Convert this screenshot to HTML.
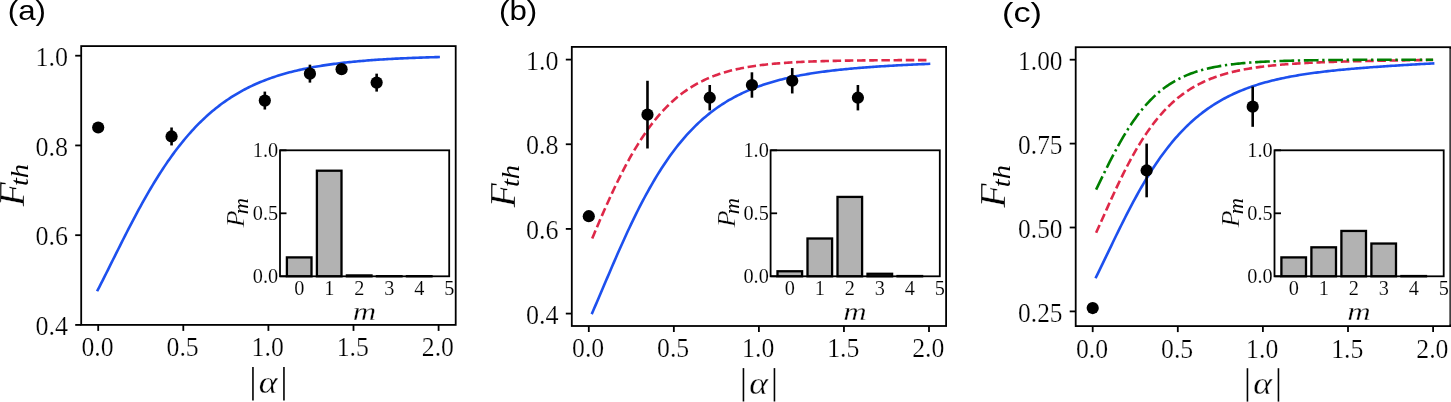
<!DOCTYPE html>
<html><head><meta charset="utf-8"><title>Figure</title>
<style>
html,body{margin:0;padding:0;background:#fff;}
body{width:1451px;height:402px;overflow:hidden;font-family:"Liberation Serif",serif;}
svg{display:block;will-change:transform;}
text{fill:#000;} text.t{stroke:#fff;stroke-width:0.25px;} text.ti{stroke:#fff;stroke-width:0.12px;} text.tb{stroke:#fff;stroke-width:0.3px;}
</style></head><body>
<svg width="1451" height="402" viewBox="0 0 1451 402">
<rect x="0" y="0" width="1451" height="402" fill="#fff"/>
<g id="panel-a">
<path d="M97.69,290.10 L99.40,286.78 L101.12,283.42 L102.83,280.05 L104.54,276.65 L106.25,273.24 L107.97,269.82 L109.68,266.39 L111.39,262.95 L113.11,259.51 L114.82,256.08 L116.53,252.64 L118.25,249.22 L119.96,245.80 L121.67,242.39 L123.39,239.00 L125.10,235.62 L126.81,232.27 L128.53,228.93 L130.24,225.62 L131.95,222.33 L133.66,219.07 L135.38,215.84 L137.09,212.64 L138.80,209.47 L140.52,206.33 L142.23,203.22 L143.94,200.16 L145.66,197.12 L147.37,194.13 L149.08,191.17 L150.80,188.26 L152.51,185.38 L154.22,182.54 L155.94,179.75 L157.65,176.99 L159.36,174.28 L161.07,171.61 L162.79,168.98 L164.50,166.40 L166.21,163.86 L167.93,161.36 L169.64,158.91 L171.35,156.50 L173.07,154.13 L174.78,151.81 L176.49,149.53 L178.21,147.29 L179.92,145.10 L181.63,142.95 L183.35,140.84 L185.06,138.77 L186.77,136.75 L188.48,134.76 L190.20,132.82 L191.91,130.92 L193.62,129.06 L195.34,127.23 L197.05,125.45 L198.76,123.71 L200.48,122.00 L202.19,120.33 L203.90,118.70 L205.62,117.11 L207.33,115.55 L209.04,114.03 L210.76,112.54 L212.47,111.09 L214.18,109.67 L215.89,108.28 L217.61,106.93 L219.32,105.61 L221.03,104.32 L222.75,103.06 L224.46,101.83 L226.17,100.63 L227.89,99.47 L229.60,98.33 L231.31,97.21 L233.03,96.13 L234.74,95.07 L236.45,94.04 L238.17,93.03 L239.88,92.05 L241.59,91.10 L243.30,90.17 L245.02,89.26 L246.73,88.37 L248.44,87.51 L250.16,86.67 L251.87,85.85 L253.58,85.05 L255.30,84.28 L257.01,83.52 L258.72,82.78 L260.44,82.06 L262.15,81.36 L263.86,80.68 L265.58,80.02 L267.29,79.37 L269.00,78.74 L270.71,78.13 L272.43,77.53 L274.14,76.95 L275.85,76.38 L277.57,75.83 L279.28,75.30 L280.99,74.77 L282.71,74.27 L284.42,73.77 L286.13,73.29 L287.85,72.82 L289.56,72.36 L291.27,71.92 L292.98,71.48 L294.70,71.06 L296.41,70.65 L298.12,70.25 L299.84,69.86 L301.55,69.48 L303.26,69.11 L304.98,68.75 L306.69,68.40 L308.40,68.06 L310.12,67.73 L311.83,67.41 L313.54,67.09 L315.26,66.79 L316.97,66.49 L318.68,66.20 L320.39,65.92 L322.11,65.64 L323.82,65.38 L325.53,65.11 L327.25,64.86 L328.96,64.61 L330.67,64.37 L332.39,64.14 L334.10,63.91 L335.81,63.69 L337.53,63.47 L339.24,63.26 L340.95,63.06 L342.67,62.86 L344.38,62.66 L346.09,62.47 L347.80,62.29 L349.52,62.11 L351.23,61.93 L352.94,61.76 L354.66,61.59 L356.37,61.43 L358.08,61.27 L359.80,61.12 L361.51,60.97 L363.22,60.83 L364.94,60.68 L366.65,60.54 L368.36,60.41 L370.08,60.28 L371.79,60.15 L373.50,60.03 L375.21,59.90 L376.93,59.79 L378.64,59.67 L380.35,59.56 L382.07,59.45 L383.78,59.34 L385.49,59.24 L387.21,59.14 L388.92,59.04 L390.63,58.94 L392.35,58.85 L394.06,58.76 L395.77,58.67 L397.49,58.58 L399.20,58.50 L400.91,58.41 L402.62,58.33 L404.34,58.26 L406.05,58.18 L407.76,58.11 L409.48,58.03 L411.19,57.96 L412.90,57.89 L414.62,57.83 L416.33,57.76 L418.04,57.70 L419.76,57.64 L421.47,57.58 L423.18,57.52 L424.90,57.46 L426.61,57.41 L428.32,57.35 L430.03,57.30 L431.75,57.25 L433.46,57.20 L435.17,57.15 L436.89,57.10 L438.60,57.06" fill="none" stroke="#1d50ee" stroke-width="2.6" stroke-linecap="square" stroke-linejoin="round"/>
<circle cx="98.20" cy="127.49" r="6.1" fill="#000"/>
<line x1="171.56" x2="171.56" y1="127.49" y2="145.44" stroke="#000" stroke-width="2.6"/>
<circle cx="171.56" cy="136.47" r="6.1" fill="#000"/>
<line x1="264.83" x2="264.83" y1="91.60" y2="109.54" stroke="#000" stroke-width="2.6"/>
<circle cx="264.83" cy="100.57" r="6.1" fill="#000"/>
<line x1="309.93" x2="309.93" y1="64.67" y2="82.62" stroke="#000" stroke-width="2.6"/>
<circle cx="309.93" cy="73.65" r="6.1" fill="#000"/>
<line x1="341.59" x2="341.59" y1="64.67" y2="73.65" stroke="#000" stroke-width="2.6"/>
<circle cx="341.59" cy="69.16" r="6.1" fill="#000"/>
<line x1="376.65" x2="376.65" y1="73.65" y2="91.60" stroke="#000" stroke-width="2.6"/>
<circle cx="376.65" cy="82.62" r="6.1" fill="#000"/>
<rect x="81.2" y="46.1" width="374.50" height="278.80" fill="none" stroke="#000" stroke-width="1.8"/>
<line x1="98.20" x2="98.20" y1="324.9" y2="330.9" stroke="#000" stroke-width="1.8"/>
<text transform="translate(97.50,356.30) scale(0.955,1)" class="t" font-family='"Liberation Serif", serif' font-size="27" text-anchor="middle">0.0</text>
<line x1="183.30" x2="183.30" y1="324.9" y2="330.9" stroke="#000" stroke-width="1.8"/>
<text transform="translate(182.60,356.30) scale(0.955,1)" class="t" font-family='"Liberation Serif", serif' font-size="27" text-anchor="middle">0.5</text>
<line x1="268.40" x2="268.40" y1="324.9" y2="330.9" stroke="#000" stroke-width="1.8"/>
<text transform="translate(267.70,356.30) scale(0.955,1)" class="t" font-family='"Liberation Serif", serif' font-size="27" text-anchor="middle">1.0</text>
<line x1="353.50" x2="353.50" y1="324.9" y2="330.9" stroke="#000" stroke-width="1.8"/>
<text transform="translate(352.80,356.30) scale(0.955,1)" class="t" font-family='"Liberation Serif", serif' font-size="27" text-anchor="middle">1.5</text>
<line x1="438.60" x2="438.60" y1="324.9" y2="330.9" stroke="#000" stroke-width="1.8"/>
<text transform="translate(437.90,356.30) scale(0.955,1)" class="t" font-family='"Liberation Serif", serif' font-size="27" text-anchor="middle">2.0</text>
<line x1="75.2" x2="81.2" y1="55.70" y2="55.70" stroke="#000" stroke-width="1.8"/>
<text transform="translate(68.00,65.80) scale(0.965,1)" class="t" font-family='"Liberation Serif", serif' font-size="27" text-anchor="end">1.0</text>
<line x1="75.2" x2="81.2" y1="145.44" y2="145.44" stroke="#000" stroke-width="1.8"/>
<text transform="translate(68.00,155.54) scale(0.965,1)" class="t" font-family='"Liberation Serif", serif' font-size="27" text-anchor="end">0.8</text>
<line x1="75.2" x2="81.2" y1="235.18" y2="235.18" stroke="#000" stroke-width="1.8"/>
<text transform="translate(68.00,245.28) scale(0.965,1)" class="t" font-family='"Liberation Serif", serif' font-size="27" text-anchor="end">0.6</text>
<line x1="75.2" x2="81.2" y1="324.92" y2="324.92" stroke="#000" stroke-width="1.8"/>
<text transform="translate(68.00,335.02) scale(0.965,1)" class="t" font-family='"Liberation Serif", serif' font-size="27" text-anchor="end">0.4</text>
<line x1="252.95" x2="252.95" y1="367.00" y2="400.40" stroke="#000" stroke-width="1.6"/>
<line x1="283.95" x2="283.95" y1="367.00" y2="400.40" stroke="#000" stroke-width="1.6"/>
<text transform="translate(268.15,392.90) scale(1.15,1)" class="tb" font-family='"Liberation Serif", serif' font-style="italic" font-size="31" text-anchor="middle">α</text>
<text transform="translate(23.90,206.50) rotate(-90) scale(1.14,1)" class="tb" font-family='"Liberation Serif", serif' font-style="italic" font-size="35">F</text>
<text transform="translate(28.40,186.10) rotate(-90) scale(1.14,1)" font-family='"Liberation Serif", serif' font-style="italic" font-size="25">th</text>
<text x="7.8" y="19.9" font-family='"Liberation Sans", sans-serif' font-size="27.3" textLength="38.2" lengthAdjust="spacingAndGlyphs">(a)</text>
<rect x="280.00" y="150.3" width="169.20" height="126.00" fill="#fff" stroke="none"/>
<rect x="286.90" y="257.40" width="24.60" height="18.90" fill="#b2b2b2" stroke="#000" stroke-width="2.3"/>
<rect x="316.90" y="170.71" width="24.60" height="105.59" fill="#b2b2b2" stroke="#000" stroke-width="2.3"/>
<rect x="346.90" y="275.42" width="24.60" height="0.88" fill="#b2b2b2" stroke="#000" stroke-width="2.3"/>
<rect x="376.90" y="276.17" width="24.60" height="0.13" fill="#b2b2b2" stroke="#000" stroke-width="2.3"/>
<rect x="406.90" y="276.17" width="24.60" height="0.13" fill="#b2b2b2" stroke="#000" stroke-width="2.3"/>
<rect x="280.00" y="150.3" width="169.20" height="126.00" fill="none" stroke="#000" stroke-width="1.8"/>
<line x1="280.00" x2="286.50" y1="150.30" y2="150.30" stroke="#000" stroke-width="1.8"/>
<text x="278.20" y="157.00" class="ti" font-family='"Liberation Serif", serif' font-size="20.3" text-anchor="end">1.0</text>
<line x1="280.00" x2="286.50" y1="213.30" y2="213.30" stroke="#000" stroke-width="1.8"/>
<text x="278.20" y="220.00" class="ti" font-family='"Liberation Serif", serif' font-size="20.3" text-anchor="end">0.5</text>
<line x1="280.00" x2="286.50" y1="276.30" y2="276.30" stroke="#000" stroke-width="1.8"/>
<text x="278.20" y="283.00" class="ti" font-family='"Liberation Serif", serif' font-size="20.3" text-anchor="end">0.0</text>
<text x="299.20" y="294.50" class="ti" font-family='"Liberation Serif", serif' font-size="20.3" text-anchor="middle">0</text>
<text x="329.20" y="294.50" class="ti" font-family='"Liberation Serif", serif' font-size="20.3" text-anchor="middle">1</text>
<text x="359.20" y="294.50" class="ti" font-family='"Liberation Serif", serif' font-size="20.3" text-anchor="middle">2</text>
<text x="389.20" y="294.50" class="ti" font-family='"Liberation Serif", serif' font-size="20.3" text-anchor="middle">3</text>
<text x="419.20" y="294.50" class="ti" font-family='"Liberation Serif", serif' font-size="20.3" text-anchor="middle">4</text>
<text x="449.20" y="294.50" class="ti" font-family='"Liberation Serif", serif' font-size="20.3" text-anchor="middle">5</text>
<text transform="translate(364.50,319.80) scale(1.25,1)" class="tb" font-family='"Liberation Serif", serif' font-style="italic" font-size="26" text-anchor="middle">m</text>
<text transform="translate(244.40,227.30) rotate(-90) scale(1.07,1)" class="tb" font-family='"Liberation Serif", serif' font-style="italic" font-size="26">P</text>
<text transform="translate(248.20,214.20) rotate(-90) scale(1.12,1)" font-family='"Liberation Serif", serif' font-style="italic" font-size="20">m</text>
</g>
<g id="panel-b">
<path d="M592.20,312.95 L593.89,309.06 L595.59,305.14 L597.28,301.20 L598.97,297.24 L600.66,293.27 L602.36,289.30 L604.05,285.32 L605.74,281.34 L607.43,277.37 L609.13,273.41 L610.82,269.46 L612.51,265.52 L614.20,261.61 L615.90,257.72 L617.59,253.85 L619.28,250.01 L620.97,246.21 L622.67,242.43 L624.36,238.69 L626.05,234.99 L627.74,231.33 L629.44,227.71 L631.13,224.14 L632.82,220.60 L634.51,217.12 L636.21,213.68 L637.90,210.29 L639.59,206.95 L641.28,203.66 L642.98,200.42 L644.67,197.24 L646.36,194.10 L648.05,191.02 L649.75,187.99 L651.44,185.02 L653.13,182.10 L654.82,179.23 L656.52,176.42 L658.21,173.66 L659.90,170.96 L661.59,168.30 L663.28,165.71 L664.98,163.16 L666.67,160.67 L668.36,158.23 L670.05,155.84 L671.75,153.51 L673.44,151.22 L675.13,148.99 L676.82,146.81 L678.52,144.67 L680.21,142.59 L681.90,140.55 L683.59,138.56 L685.29,136.61 L686.98,134.72 L688.67,132.86 L690.36,131.06 L692.06,129.29 L693.75,127.57 L695.44,125.89 L697.13,124.25 L698.83,122.66 L700.52,121.10 L702.21,119.58 L703.90,118.10 L705.60,116.66 L707.29,115.25 L708.98,113.88 L710.67,112.55 L712.37,111.25 L714.06,109.98 L715.75,108.75 L717.44,107.55 L719.14,106.38 L720.83,105.24 L722.52,104.13 L724.21,103.05 L725.91,102.00 L727.60,100.98 L729.29,99.98 L730.98,99.01 L732.68,98.07 L734.37,97.15 L736.06,96.26 L737.75,95.39 L739.45,94.54 L741.14,93.72 L742.83,92.91 L744.52,92.13 L746.22,91.37 L747.91,90.64 L749.60,89.92 L751.29,89.22 L752.98,88.54 L754.68,87.87 L756.37,87.23 L758.06,86.60 L759.75,85.99 L761.45,85.40 L763.14,84.82 L764.83,84.25 L766.52,83.71 L768.22,83.17 L769.91,82.65 L771.60,82.15 L773.29,81.66 L774.99,81.18 L776.68,80.71 L778.37,80.26 L780.06,79.82 L781.76,79.39 L783.45,78.97 L785.14,78.56 L786.83,78.16 L788.53,77.78 L790.22,77.40 L791.91,77.03 L793.60,76.68 L795.30,76.33 L796.99,75.99 L798.68,75.66 L800.37,75.34 L802.07,75.03 L803.76,74.72 L805.45,74.42 L807.14,74.13 L808.84,73.85 L810.53,73.57 L812.22,73.30 L813.91,73.04 L815.61,72.79 L817.30,72.54 L818.99,72.29 L820.68,72.05 L822.38,71.82 L824.07,71.60 L825.76,71.38 L827.45,71.16 L829.15,70.95 L830.84,70.75 L832.53,70.54 L834.22,70.35 L835.92,70.16 L837.61,69.97 L839.30,69.79 L840.99,69.61 L842.68,69.43 L844.38,69.26 L846.07,69.10 L847.76,68.93 L849.45,68.78 L851.15,68.62 L852.84,68.47 L854.53,68.32 L856.22,68.17 L857.92,68.03 L859.61,67.89 L861.30,67.75 L862.99,67.62 L864.69,67.48 L866.38,67.35 L868.07,67.23 L869.76,67.10 L871.46,66.98 L873.15,66.86 L874.84,66.75 L876.53,66.63 L878.23,66.52 L879.92,66.41 L881.61,66.30 L883.30,66.19 L885.00,66.09 L886.69,65.98 L888.38,65.88 L890.07,65.78 L891.77,65.69 L893.46,65.59 L895.15,65.50 L896.84,65.40 L898.54,65.31 L900.23,65.22 L901.92,65.13 L903.61,65.04 L905.31,64.96 L907.00,64.87 L908.69,64.79 L910.38,64.71 L912.08,64.62 L913.77,64.54 L915.46,64.47 L917.15,64.39 L918.85,64.31 L920.54,64.23 L922.23,64.16 L923.92,64.08 L925.62,64.01 L927.31,63.94 L929.00,63.87" fill="none" stroke="#1d50ee" stroke-width="2.6" stroke-linecap="square" stroke-linejoin="round"/>
<path d="M592.20,238.39 L593.89,234.38 L595.59,230.38 L597.28,226.40 L598.97,222.45 L600.66,218.52 L602.36,214.63 L604.05,210.77 L605.74,206.96 L607.43,203.18 L609.13,199.44 L610.82,195.75 L612.51,192.11 L614.20,188.52 L615.90,184.98 L617.59,181.50 L619.28,178.07 L620.97,174.69 L622.67,171.38 L624.36,168.13 L626.05,164.93 L627.74,161.80 L629.44,158.73 L631.13,155.72 L632.82,152.77 L634.51,149.89 L636.21,147.07 L637.90,144.32 L639.59,141.63 L641.28,139.00 L642.98,136.44 L644.67,133.94 L646.36,131.50 L648.05,129.12 L649.75,126.81 L651.44,124.55 L653.13,122.36 L654.82,120.23 L656.52,118.16 L658.21,116.14 L659.90,114.19 L661.59,112.29 L663.28,110.44 L664.98,108.65 L666.67,106.92 L668.36,105.23 L670.05,103.60 L671.75,102.02 L673.44,100.49 L675.13,99.01 L676.82,97.57 L678.52,96.19 L680.21,94.85 L681.90,93.55 L683.59,92.29 L685.29,91.08 L686.98,89.91 L688.67,88.78 L690.36,87.69 L692.06,86.63 L693.75,85.61 L695.44,84.63 L697.13,83.69 L698.83,82.77 L700.52,81.89 L702.21,81.04 L703.90,80.22 L705.60,79.44 L707.29,78.68 L708.98,77.95 L710.67,77.24 L712.37,76.56 L714.06,75.91 L715.75,75.28 L717.44,74.68 L719.14,74.10 L720.83,73.54 L722.52,73.00 L724.21,72.49 L725.91,71.99 L727.60,71.51 L729.29,71.05 L730.98,70.61 L732.68,70.19 L734.37,69.78 L736.06,69.39 L737.75,69.01 L739.45,68.65 L741.14,68.30 L742.83,67.97 L744.52,67.65 L746.22,67.34 L747.91,67.04 L749.60,66.76 L751.29,66.49 L752.98,66.23 L754.68,65.98 L756.37,65.74 L758.06,65.50 L759.75,65.28 L761.45,65.07 L763.14,64.87 L764.83,64.67 L766.52,64.48 L768.22,64.30 L769.91,64.13 L771.60,63.96 L773.29,63.80 L774.99,63.65 L776.68,63.50 L778.37,63.36 L780.06,63.23 L781.76,63.10 L783.45,62.97 L785.14,62.85 L786.83,62.74 L788.53,62.63 L790.22,62.52 L791.91,62.42 L793.60,62.32 L795.30,62.23 L796.99,62.14 L798.68,62.05 L800.37,61.97 L802.07,61.89 L803.76,61.82 L805.45,61.74 L807.14,61.67 L808.84,61.60 L810.53,61.54 L812.22,61.48 L813.91,61.42 L815.61,61.36 L817.30,61.31 L818.99,61.25 L820.68,61.20 L822.38,61.15 L824.07,61.11 L825.76,61.06 L827.45,61.02 L829.15,60.98 L830.84,60.94 L832.53,60.90 L834.22,60.86 L835.92,60.83 L837.61,60.79 L839.30,60.76 L840.99,60.73 L842.68,60.70 L844.38,60.67 L846.07,60.64 L847.76,60.62 L849.45,60.59 L851.15,60.57 L852.84,60.54 L854.53,60.52 L856.22,60.50 L857.92,60.48 L859.61,60.46 L861.30,60.44 L862.99,60.42 L864.69,60.40 L866.38,60.39 L868.07,60.37 L869.76,60.36 L871.46,60.34 L873.15,60.33 L874.84,60.31 L876.53,60.30 L878.23,60.29 L879.92,60.27 L881.61,60.26 L883.30,60.25 L885.00,60.24 L886.69,60.23 L888.38,60.22 L890.07,60.21 L891.77,60.20 L893.46,60.20 L895.15,60.19 L896.84,60.18 L898.54,60.17 L900.23,60.17 L901.92,60.16 L903.61,60.15 L905.31,60.15 L907.00,60.14 L908.69,60.14 L910.38,60.13 L912.08,60.13 L913.77,60.13 L915.46,60.12 L917.15,60.12 L918.85,60.12 L920.54,60.11 L922.23,60.11 L923.92,60.11 L925.62,60.11 L927.31,60.11 L929.00,60.10" fill="none" stroke="#de2848" stroke-width="2.6" stroke-linecap="butt" stroke-linejoin="round" stroke-dasharray="8.51,3.68"/>
<circle cx="588.80" cy="216.22" r="6.1" fill="#000"/>
<line x1="647.48" x2="647.48" y1="80.77" y2="148.49" stroke="#000" stroke-width="2.6"/>
<circle cx="647.48" cy="114.63" r="6.1" fill="#000"/>
<line x1="709.74" x2="709.74" y1="85.00" y2="110.40" stroke="#000" stroke-width="2.6"/>
<circle cx="709.74" cy="97.70" r="6.1" fill="#000"/>
<line x1="751.93" x2="751.93" y1="72.30" y2="97.70" stroke="#000" stroke-width="2.6"/>
<circle cx="751.93" cy="85.00" r="6.1" fill="#000"/>
<line x1="792.24" x2="792.24" y1="68.07" y2="93.46" stroke="#000" stroke-width="2.6"/>
<circle cx="792.24" cy="80.77" r="6.1" fill="#000"/>
<line x1="857.90" x2="857.90" y1="85.00" y2="110.40" stroke="#000" stroke-width="2.6"/>
<circle cx="857.90" cy="97.70" r="6.1" fill="#000"/>
<rect x="571.8" y="46.9" width="374.30" height="279.10" fill="none" stroke="#000" stroke-width="1.8"/>
<line x1="588.80" x2="588.80" y1="326.0" y2="332.0" stroke="#000" stroke-width="1.8"/>
<text transform="translate(588.10,357.40) scale(0.955,1)" class="t" font-family='"Liberation Serif", serif' font-size="27" text-anchor="middle">0.0</text>
<line x1="673.85" x2="673.85" y1="326.0" y2="332.0" stroke="#000" stroke-width="1.8"/>
<text transform="translate(673.15,357.40) scale(0.955,1)" class="t" font-family='"Liberation Serif", serif' font-size="27" text-anchor="middle">0.5</text>
<line x1="758.90" x2="758.90" y1="326.0" y2="332.0" stroke="#000" stroke-width="1.8"/>
<text transform="translate(758.20,357.40) scale(0.955,1)" class="t" font-family='"Liberation Serif", serif' font-size="27" text-anchor="middle">1.0</text>
<line x1="843.95" x2="843.95" y1="326.0" y2="332.0" stroke="#000" stroke-width="1.8"/>
<text transform="translate(843.25,357.40) scale(0.955,1)" class="t" font-family='"Liberation Serif", serif' font-size="27" text-anchor="middle">1.5</text>
<line x1="929.00" x2="929.00" y1="326.0" y2="332.0" stroke="#000" stroke-width="1.8"/>
<text transform="translate(928.30,357.40) scale(0.955,1)" class="t" font-family='"Liberation Serif", serif' font-size="27" text-anchor="middle">2.0</text>
<line x1="565.8" x2="571.8" y1="59.60" y2="59.60" stroke="#000" stroke-width="1.8"/>
<text transform="translate(558.60,69.70) scale(0.965,1)" class="t" font-family='"Liberation Serif", serif' font-size="27" text-anchor="end">1.0</text>
<line x1="565.8" x2="571.8" y1="144.26" y2="144.26" stroke="#000" stroke-width="1.8"/>
<text transform="translate(558.60,154.36) scale(0.965,1)" class="t" font-family='"Liberation Serif", serif' font-size="27" text-anchor="end">0.8</text>
<line x1="565.8" x2="571.8" y1="228.92" y2="228.92" stroke="#000" stroke-width="1.8"/>
<text transform="translate(558.60,239.02) scale(0.965,1)" class="t" font-family='"Liberation Serif", serif' font-size="27" text-anchor="end">0.6</text>
<line x1="565.8" x2="571.8" y1="313.58" y2="313.58" stroke="#000" stroke-width="1.8"/>
<text transform="translate(558.60,323.68) scale(0.965,1)" class="t" font-family='"Liberation Serif", serif' font-size="27" text-anchor="end">0.4</text>
<line x1="743.45" x2="743.45" y1="368.10" y2="401.50" stroke="#000" stroke-width="1.6"/>
<line x1="774.45" x2="774.45" y1="368.10" y2="401.50" stroke="#000" stroke-width="1.6"/>
<text transform="translate(758.65,394.00) scale(1.15,1)" class="tb" font-family='"Liberation Serif", serif' font-style="italic" font-size="31" text-anchor="middle">α</text>
<text transform="translate(514.50,207.45) rotate(-90) scale(1.14,1)" class="tb" font-family='"Liberation Serif", serif' font-style="italic" font-size="35">F</text>
<text transform="translate(519.00,187.05) rotate(-90) scale(1.14,1)" font-family='"Liberation Serif", serif' font-style="italic" font-size="25">th</text>
<text x="499.0" y="19.5" font-family='"Liberation Sans", sans-serif' font-size="27.3" textLength="38.2" lengthAdjust="spacingAndGlyphs">(b)</text>
<rect x="770.60" y="150.3" width="169.20" height="126.00" fill="#fff" stroke="none"/>
<rect x="777.50" y="271.26" width="24.60" height="5.04" fill="#b2b2b2" stroke="#000" stroke-width="2.3"/>
<rect x="807.50" y="238.50" width="24.60" height="37.80" fill="#b2b2b2" stroke="#000" stroke-width="2.3"/>
<rect x="837.50" y="196.92" width="24.60" height="79.38" fill="#b2b2b2" stroke="#000" stroke-width="2.3"/>
<rect x="867.50" y="273.78" width="24.60" height="2.52" fill="#b2b2b2" stroke="#000" stroke-width="2.3"/>
<rect x="897.50" y="276.05" width="24.60" height="0.25" fill="#b2b2b2" stroke="#000" stroke-width="2.3"/>
<rect x="770.60" y="150.3" width="169.20" height="126.00" fill="none" stroke="#000" stroke-width="1.8"/>
<line x1="770.60" x2="777.10" y1="150.30" y2="150.30" stroke="#000" stroke-width="1.8"/>
<text x="768.80" y="157.00" class="ti" font-family='"Liberation Serif", serif' font-size="20.3" text-anchor="end">1.0</text>
<line x1="770.60" x2="777.10" y1="213.30" y2="213.30" stroke="#000" stroke-width="1.8"/>
<text x="768.80" y="220.00" class="ti" font-family='"Liberation Serif", serif' font-size="20.3" text-anchor="end">0.5</text>
<line x1="770.60" x2="777.10" y1="276.30" y2="276.30" stroke="#000" stroke-width="1.8"/>
<text x="768.80" y="283.00" class="ti" font-family='"Liberation Serif", serif' font-size="20.3" text-anchor="end">0.0</text>
<text x="789.80" y="294.50" class="ti" font-family='"Liberation Serif", serif' font-size="20.3" text-anchor="middle">0</text>
<text x="819.80" y="294.50" class="ti" font-family='"Liberation Serif", serif' font-size="20.3" text-anchor="middle">1</text>
<text x="849.80" y="294.50" class="ti" font-family='"Liberation Serif", serif' font-size="20.3" text-anchor="middle">2</text>
<text x="879.80" y="294.50" class="ti" font-family='"Liberation Serif", serif' font-size="20.3" text-anchor="middle">3</text>
<text x="909.80" y="294.50" class="ti" font-family='"Liberation Serif", serif' font-size="20.3" text-anchor="middle">4</text>
<text x="939.80" y="294.50" class="ti" font-family='"Liberation Serif", serif' font-size="20.3" text-anchor="middle">5</text>
<text transform="translate(855.10,319.80) scale(1.25,1)" class="tb" font-family='"Liberation Serif", serif' font-style="italic" font-size="26" text-anchor="middle">m</text>
<text transform="translate(735.00,227.30) rotate(-90) scale(1.07,1)" class="tb" font-family='"Liberation Serif", serif' font-style="italic" font-size="26">P</text>
<text transform="translate(738.80,214.20) rotate(-90) scale(1.12,1)" font-family='"Liberation Serif", serif' font-style="italic" font-size="20">m</text>
</g>
<g id="panel-c">
<path d="M1096.10,277.09 L1097.80,273.65 L1099.49,270.18 L1101.18,266.69 L1102.88,263.19 L1104.57,259.67 L1106.26,256.14 L1107.96,252.61 L1109.65,249.08 L1111.35,245.56 L1113.04,242.04 L1114.73,238.54 L1116.43,235.05 L1118.12,231.59 L1119.81,228.14 L1121.51,224.73 L1123.20,221.34 L1124.89,217.98 L1126.59,214.65 L1128.28,211.36 L1129.97,208.11 L1131.67,204.89 L1133.36,201.72 L1135.05,198.59 L1136.75,195.50 L1138.44,192.46 L1140.13,189.46 L1141.83,186.51 L1143.52,183.61 L1145.21,180.76 L1146.91,177.95 L1148.60,175.20 L1150.29,172.49 L1151.99,169.84 L1153.68,167.24 L1155.37,164.68 L1157.07,162.18 L1158.76,159.73 L1160.45,157.33 L1162.15,154.98 L1163.84,152.68 L1165.54,150.43 L1167.23,148.23 L1168.92,146.08 L1170.62,143.97 L1172.31,141.92 L1174.00,139.91 L1175.70,137.95 L1177.39,136.03 L1179.08,134.16 L1180.78,132.34 L1182.47,130.56 L1184.16,128.82 L1185.86,127.13 L1187.55,125.47 L1189.24,123.86 L1190.94,122.29 L1192.63,120.76 L1194.32,119.27 L1196.02,117.82 L1197.71,116.41 L1199.40,115.03 L1201.10,113.69 L1202.79,112.38 L1204.48,111.11 L1206.18,109.87 L1207.87,108.66 L1209.56,107.49 L1211.26,106.35 L1212.95,105.24 L1214.65,104.15 L1216.34,103.10 L1218.03,102.08 L1219.73,101.08 L1221.42,100.11 L1223.11,99.17 L1224.81,98.25 L1226.50,97.36 L1228.19,96.49 L1229.89,95.64 L1231.58,94.82 L1233.27,94.02 L1234.97,93.25 L1236.66,92.49 L1238.35,91.76 L1240.05,91.04 L1241.74,90.34 L1243.43,89.67 L1245.13,89.01 L1246.82,88.37 L1248.51,87.75 L1250.21,87.14 L1251.90,86.55 L1253.59,85.98 L1255.29,85.42 L1256.98,84.87 L1258.67,84.35 L1260.37,83.83 L1262.06,83.33 L1263.76,82.84 L1265.45,82.37 L1267.14,81.91 L1268.84,81.46 L1270.53,81.02 L1272.22,80.59 L1273.92,80.18 L1275.61,79.78 L1277.30,79.38 L1279.00,79.00 L1280.69,78.63 L1282.38,78.26 L1284.08,77.91 L1285.77,77.56 L1287.46,77.22 L1289.16,76.90 L1290.85,76.58 L1292.54,76.26 L1294.24,75.96 L1295.93,75.66 L1297.62,75.37 L1299.32,75.09 L1301.01,74.81 L1302.70,74.54 L1304.40,74.28 L1306.09,74.02 L1307.78,73.77 L1309.48,73.53 L1311.17,73.29 L1312.87,73.05 L1314.56,72.82 L1316.25,72.60 L1317.95,72.38 L1319.64,72.17 L1321.33,71.96 L1323.03,71.75 L1324.72,71.55 L1326.41,71.35 L1328.11,71.16 L1329.80,70.97 L1331.49,70.79 L1333.19,70.60 L1334.88,70.43 L1336.57,70.25 L1338.27,70.08 L1339.96,69.91 L1341.65,69.75 L1343.35,69.59 L1345.04,69.43 L1346.73,69.27 L1348.43,69.12 L1350.12,68.97 L1351.81,68.82 L1353.51,68.67 L1355.20,68.53 L1356.89,68.38 L1358.59,68.24 L1360.28,68.11 L1361.98,67.97 L1363.67,67.84 L1365.36,67.71 L1367.06,67.58 L1368.75,67.45 L1370.44,67.32 L1372.14,67.20 L1373.83,67.07 L1375.52,66.95 L1377.22,66.83 L1378.91,66.71 L1380.60,66.59 L1382.30,66.48 L1383.99,66.36 L1385.68,66.25 L1387.38,66.13 L1389.07,66.02 L1390.76,65.91 L1392.46,65.80 L1394.15,65.69 L1395.84,65.59 L1397.54,65.48 L1399.23,65.37 L1400.92,65.27 L1402.62,65.16 L1404.31,65.06 L1406.00,64.96 L1407.70,64.86 L1409.39,64.76 L1411.09,64.66 L1412.78,64.56 L1414.47,64.46 L1416.17,64.36 L1417.86,64.27 L1419.55,64.17 L1421.25,64.07 L1422.94,63.98 L1424.63,63.89 L1426.33,63.79 L1428.02,63.70 L1429.71,63.61 L1431.41,63.52 L1433.10,63.43" fill="none" stroke="#1d50ee" stroke-width="2.6" stroke-linecap="square" stroke-linejoin="round"/>
<path d="M1096.10,232.80 L1097.80,229.05 L1099.49,225.28 L1101.18,221.50 L1102.88,217.70 L1104.57,213.91 L1106.26,210.13 L1107.96,206.36 L1109.65,202.61 L1111.35,198.89 L1113.04,195.20 L1114.73,191.54 L1116.43,187.92 L1118.12,184.34 L1119.81,180.81 L1121.51,177.33 L1123.20,173.91 L1124.89,170.54 L1126.59,167.23 L1128.28,163.98 L1129.97,160.79 L1131.67,157.67 L1133.36,154.62 L1135.05,151.63 L1136.75,148.71 L1138.44,145.85 L1140.13,143.07 L1141.83,140.35 L1143.52,137.71 L1145.21,135.13 L1146.91,132.62 L1148.60,130.18 L1150.29,127.81 L1151.99,125.51 L1153.68,123.27 L1155.37,121.10 L1157.07,118.99 L1158.76,116.95 L1160.45,114.97 L1162.15,113.05 L1163.84,111.19 L1165.54,109.39 L1167.23,107.65 L1168.92,105.97 L1170.62,104.34 L1172.31,102.77 L1174.00,101.25 L1175.70,99.78 L1177.39,98.36 L1179.08,96.99 L1180.78,95.67 L1182.47,94.40 L1184.16,93.16 L1185.86,91.98 L1187.55,90.83 L1189.24,89.73 L1190.94,88.67 L1192.63,87.64 L1194.32,86.65 L1196.02,85.70 L1197.71,84.78 L1199.40,83.90 L1201.10,83.05 L1202.79,82.23 L1204.48,81.44 L1206.18,80.68 L1207.87,79.95 L1209.56,79.25 L1211.26,78.57 L1212.95,77.92 L1214.65,77.29 L1216.34,76.68 L1218.03,76.10 L1219.73,75.54 L1221.42,75.00 L1223.11,74.48 L1224.81,73.98 L1226.50,73.50 L1228.19,73.04 L1229.89,72.60 L1231.58,72.17 L1233.27,71.75 L1234.97,71.36 L1236.66,70.97 L1238.35,70.61 L1240.05,70.25 L1241.74,69.91 L1243.43,69.58 L1245.13,69.27 L1246.82,68.96 L1248.51,68.67 L1250.21,68.38 L1251.90,68.11 L1253.59,67.85 L1255.29,67.59 L1256.98,67.35 L1258.67,67.12 L1260.37,66.89 L1262.06,66.67 L1263.76,66.46 L1265.45,66.26 L1267.14,66.06 L1268.84,65.87 L1270.53,65.69 L1272.22,65.51 L1273.92,65.34 L1275.61,65.18 L1277.30,65.02 L1279.00,64.86 L1280.69,64.72 L1282.38,64.57 L1284.08,64.43 L1285.77,64.30 L1287.46,64.17 L1289.16,64.05 L1290.85,63.93 L1292.54,63.81 L1294.24,63.70 L1295.93,63.59 L1297.62,63.48 L1299.32,63.38 L1301.01,63.28 L1302.70,63.18 L1304.40,63.09 L1306.09,63.00 L1307.78,62.91 L1309.48,62.82 L1311.17,62.74 L1312.87,62.66 L1314.56,62.58 L1316.25,62.51 L1317.95,62.43 L1319.64,62.36 L1321.33,62.29 L1323.03,62.23 L1324.72,62.16 L1326.41,62.10 L1328.11,62.03 L1329.80,61.97 L1331.49,61.92 L1333.19,61.86 L1334.88,61.80 L1336.57,61.75 L1338.27,61.69 L1339.96,61.64 L1341.65,61.59 L1343.35,61.54 L1345.04,61.50 L1346.73,61.45 L1348.43,61.40 L1350.12,61.36 L1351.81,61.31 L1353.51,61.27 L1355.20,61.23 L1356.89,61.19 L1358.59,61.15 L1360.28,61.11 L1361.98,61.07 L1363.67,61.04 L1365.36,61.00 L1367.06,60.96 L1368.75,60.93 L1370.44,60.89 L1372.14,60.86 L1373.83,60.83 L1375.52,60.80 L1377.22,60.76 L1378.91,60.73 L1380.60,60.70 L1382.30,60.67 L1383.99,60.64 L1385.68,60.62 L1387.38,60.59 L1389.07,60.56 L1390.76,60.53 L1392.46,60.51 L1394.15,60.48 L1395.84,60.46 L1397.54,60.43 L1399.23,60.41 L1400.92,60.38 L1402.62,60.36 L1404.31,60.34 L1406.00,60.32 L1407.70,60.29 L1409.39,60.27 L1411.09,60.25 L1412.78,60.23 L1414.47,60.21 L1416.17,60.19 L1417.86,60.17 L1419.55,60.15 L1421.25,60.14 L1422.94,60.12 L1424.63,60.10 L1426.33,60.09 L1428.02,60.07 L1429.71,60.05 L1431.41,60.04 L1433.10,60.02" fill="none" stroke="#de2848" stroke-width="2.6" stroke-linecap="butt" stroke-linejoin="round" stroke-dasharray="8.51,3.68"/>
<path d="M1096.10,189.64 L1097.80,186.13 L1099.49,182.61 L1101.18,179.11 L1102.88,175.62 L1104.57,172.15 L1106.26,168.71 L1107.96,165.30 L1109.65,161.94 L1111.35,158.62 L1113.04,155.35 L1114.73,152.14 L1116.43,148.98 L1118.12,145.88 L1119.81,142.84 L1121.51,139.87 L1123.20,136.97 L1124.89,134.14 L1126.59,131.37 L1128.28,128.68 L1129.97,126.06 L1131.67,123.52 L1133.36,121.05 L1135.05,118.65 L1136.75,116.32 L1138.44,114.06 L1140.13,111.88 L1141.83,109.77 L1143.52,107.73 L1145.21,105.76 L1146.91,103.86 L1148.60,102.02 L1150.29,100.25 L1151.99,98.55 L1153.68,96.91 L1155.37,95.33 L1157.07,93.81 L1158.76,92.34 L1160.45,90.94 L1162.15,89.59 L1163.84,88.29 L1165.54,87.05 L1167.23,85.86 L1168.92,84.71 L1170.62,83.62 L1172.31,82.57 L1174.00,81.56 L1175.70,80.59 L1177.39,79.67 L1179.08,78.78 L1180.78,77.94 L1182.47,77.13 L1184.16,76.35 L1185.86,75.61 L1187.55,74.90 L1189.24,74.23 L1190.94,73.58 L1192.63,72.96 L1194.32,72.37 L1196.02,71.81 L1197.71,71.27 L1199.40,70.75 L1201.10,70.26 L1202.79,69.79 L1204.48,69.34 L1206.18,68.91 L1207.87,68.50 L1209.56,68.11 L1211.26,67.74 L1212.95,67.38 L1214.65,67.04 L1216.34,66.72 L1218.03,66.41 L1219.73,66.11 L1221.42,65.83 L1223.11,65.56 L1224.81,65.30 L1226.50,65.05 L1228.19,64.82 L1229.89,64.60 L1231.58,64.38 L1233.27,64.18 L1234.97,63.98 L1236.66,63.80 L1238.35,63.62 L1240.05,63.45 L1241.74,63.29 L1243.43,63.13 L1245.13,62.98 L1246.82,62.84 L1248.51,62.70 L1250.21,62.57 L1251.90,62.45 L1253.59,62.33 L1255.29,62.22 L1256.98,62.11 L1258.67,62.01 L1260.37,61.91 L1262.06,61.81 L1263.76,61.72 L1265.45,61.64 L1267.14,61.55 L1268.84,61.48 L1270.53,61.40 L1272.22,61.33 L1273.92,61.26 L1275.61,61.19 L1277.30,61.13 L1279.00,61.07 L1280.69,61.01 L1282.38,60.95 L1284.08,60.90 L1285.77,60.84 L1287.46,60.80 L1289.16,60.75 L1290.85,60.70 L1292.54,60.66 L1294.24,60.62 L1295.93,60.58 L1297.62,60.54 L1299.32,60.50 L1301.01,60.47 L1302.70,60.43 L1304.40,60.40 L1306.09,60.37 L1307.78,60.34 L1309.48,60.31 L1311.17,60.28 L1312.87,60.26 L1314.56,60.23 L1316.25,60.21 L1317.95,60.18 L1319.64,60.16 L1321.33,60.14 L1323.03,60.12 L1324.72,60.10 L1326.41,60.08 L1328.11,60.06 L1329.80,60.04 L1331.49,60.03 L1333.19,60.01 L1334.88,60.00 L1336.57,59.98 L1338.27,59.97 L1339.96,59.95 L1341.65,59.94 L1343.35,59.93 L1345.04,59.92 L1346.73,59.91 L1348.43,59.89 L1350.12,59.88 L1351.81,59.87 L1353.51,59.86 L1355.20,59.86 L1356.89,59.85 L1358.59,59.84 L1360.28,59.83 L1361.98,59.82 L1363.67,59.82 L1365.36,59.81 L1367.06,59.80 L1368.75,59.80 L1370.44,59.79 L1372.14,59.78 L1373.83,59.78 L1375.52,59.77 L1377.22,59.77 L1378.91,59.76 L1380.60,59.76 L1382.30,59.76 L1383.99,59.75 L1385.68,59.75 L1387.38,59.75 L1389.07,59.74 L1390.76,59.74 L1392.46,59.74 L1394.15,59.73 L1395.84,59.73 L1397.54,59.73 L1399.23,59.73 L1400.92,59.72 L1402.62,59.72 L1404.31,59.72 L1406.00,59.72 L1407.70,59.72 L1409.39,59.72 L1411.09,59.71 L1412.78,59.71 L1414.47,59.71 L1416.17,59.71 L1417.86,59.71 L1419.55,59.71 L1421.25,59.71 L1422.94,59.71 L1424.63,59.71 L1426.33,59.71 L1428.02,59.71 L1429.71,59.70 L1431.41,59.70 L1433.10,59.70" fill="none" stroke="#007f00" stroke-width="2.6" stroke-linecap="butt" stroke-linejoin="round" stroke-dasharray="14.72,3.68,2.30,3.68"/>
<circle cx="1092.70" cy="308.04" r="6.1" fill="#000"/>
<line x1="1146.65" x2="1146.65" y1="143.60" y2="197.30" stroke="#000" stroke-width="2.6"/>
<circle cx="1146.65" cy="170.45" r="6.1" fill="#000"/>
<line x1="1252.69" x2="1252.69" y1="86.55" y2="126.82" stroke="#000" stroke-width="2.6"/>
<circle cx="1252.69" cy="106.68" r="6.1" fill="#000"/>
<rect x="1075.7" y="47.2" width="374.50" height="278.90" fill="none" stroke="#000" stroke-width="1.8"/>
<line x1="1450.2" x2="1450.2" y1="48.7" y2="324.6" stroke="#fff" stroke-opacity="0.25" stroke-width="3"/>
<line x1="1092.70" x2="1092.70" y1="326.1" y2="332.1" stroke="#000" stroke-width="1.8"/>
<text transform="translate(1092.00,357.50) scale(0.955,1)" class="t" font-family='"Liberation Serif", serif' font-size="27" text-anchor="middle">0.0</text>
<line x1="1177.80" x2="1177.80" y1="326.1" y2="332.1" stroke="#000" stroke-width="1.8"/>
<text transform="translate(1177.10,357.50) scale(0.955,1)" class="t" font-family='"Liberation Serif", serif' font-size="27" text-anchor="middle">0.5</text>
<line x1="1262.90" x2="1262.90" y1="326.1" y2="332.1" stroke="#000" stroke-width="1.8"/>
<text transform="translate(1262.20,357.50) scale(0.955,1)" class="t" font-family='"Liberation Serif", serif' font-size="27" text-anchor="middle">1.0</text>
<line x1="1348.00" x2="1348.00" y1="326.1" y2="332.1" stroke="#000" stroke-width="1.8"/>
<text transform="translate(1347.30,357.50) scale(0.955,1)" class="t" font-family='"Liberation Serif", serif' font-size="27" text-anchor="middle">1.5</text>
<line x1="1433.10" x2="1433.10" y1="326.1" y2="332.1" stroke="#000" stroke-width="1.8"/>
<text transform="translate(1432.40,357.50) scale(0.955,1)" class="t" font-family='"Liberation Serif", serif' font-size="27" text-anchor="middle">2.0</text>
<line x1="1069.7" x2="1075.7" y1="59.70" y2="59.70" stroke="#000" stroke-width="1.8"/>
<text transform="translate(1062.50,69.80) scale(0.94,1)" class="t" font-family='"Liberation Serif", serif' font-size="27" text-anchor="end">1.00</text>
<line x1="1069.7" x2="1075.7" y1="143.60" y2="143.60" stroke="#000" stroke-width="1.8"/>
<text transform="translate(1062.50,153.70) scale(0.94,1)" class="t" font-family='"Liberation Serif", serif' font-size="27" text-anchor="end">0.75</text>
<line x1="1069.7" x2="1075.7" y1="227.50" y2="227.50" stroke="#000" stroke-width="1.8"/>
<text transform="translate(1062.50,237.60) scale(0.94,1)" class="t" font-family='"Liberation Serif", serif' font-size="27" text-anchor="end">0.50</text>
<line x1="1069.7" x2="1075.7" y1="311.40" y2="311.40" stroke="#000" stroke-width="1.8"/>
<text transform="translate(1062.50,321.50) scale(0.94,1)" class="t" font-family='"Liberation Serif", serif' font-size="27" text-anchor="end">0.25</text>
<line x1="1247.45" x2="1247.45" y1="368.20" y2="401.60" stroke="#000" stroke-width="1.6"/>
<line x1="1278.45" x2="1278.45" y1="368.20" y2="401.60" stroke="#000" stroke-width="1.6"/>
<text transform="translate(1262.65,394.10) scale(1.15,1)" class="tb" font-family='"Liberation Serif", serif' font-style="italic" font-size="31" text-anchor="middle">α</text>
<text transform="translate(1005.30,207.65) rotate(-90) scale(1.14,1)" class="tb" font-family='"Liberation Serif", serif' font-style="italic" font-size="35">F</text>
<text transform="translate(1009.80,187.25) rotate(-90) scale(1.14,1)" font-family='"Liberation Serif", serif' font-style="italic" font-size="25">th</text>
<text x="1002.0" y="21.7" font-family='"Liberation Sans", sans-serif' font-size="28.5" textLength="40.0" lengthAdjust="spacingAndGlyphs">(c)</text>
<rect x="1274.50" y="150.3" width="169.20" height="126.00" fill="#fff" stroke="none"/>
<rect x="1281.40" y="257.40" width="24.60" height="18.90" fill="#b2b2b2" stroke="#000" stroke-width="2.3"/>
<rect x="1311.40" y="247.32" width="24.60" height="28.98" fill="#b2b2b2" stroke="#000" stroke-width="2.3"/>
<rect x="1341.40" y="230.94" width="24.60" height="45.36" fill="#b2b2b2" stroke="#000" stroke-width="2.3"/>
<rect x="1371.40" y="243.54" width="24.60" height="32.76" fill="#b2b2b2" stroke="#000" stroke-width="2.3"/>
<rect x="1401.40" y="276.05" width="24.60" height="0.25" fill="#b2b2b2" stroke="#000" stroke-width="2.3"/>
<rect x="1274.50" y="150.3" width="169.20" height="126.00" fill="none" stroke="#000" stroke-width="1.8"/>
<line x1="1274.50" x2="1281.00" y1="150.30" y2="150.30" stroke="#000" stroke-width="1.8"/>
<text x="1272.70" y="157.00" class="ti" font-family='"Liberation Serif", serif' font-size="20.3" text-anchor="end">1.0</text>
<line x1="1274.50" x2="1281.00" y1="213.30" y2="213.30" stroke="#000" stroke-width="1.8"/>
<text x="1272.70" y="220.00" class="ti" font-family='"Liberation Serif", serif' font-size="20.3" text-anchor="end">0.5</text>
<line x1="1274.50" x2="1281.00" y1="276.30" y2="276.30" stroke="#000" stroke-width="1.8"/>
<text x="1272.70" y="283.00" class="ti" font-family='"Liberation Serif", serif' font-size="20.3" text-anchor="end">0.0</text>
<text x="1293.70" y="294.50" class="ti" font-family='"Liberation Serif", serif' font-size="20.3" text-anchor="middle">0</text>
<text x="1323.70" y="294.50" class="ti" font-family='"Liberation Serif", serif' font-size="20.3" text-anchor="middle">1</text>
<text x="1353.70" y="294.50" class="ti" font-family='"Liberation Serif", serif' font-size="20.3" text-anchor="middle">2</text>
<text x="1383.70" y="294.50" class="ti" font-family='"Liberation Serif", serif' font-size="20.3" text-anchor="middle">3</text>
<text x="1413.70" y="294.50" class="ti" font-family='"Liberation Serif", serif' font-size="20.3" text-anchor="middle">4</text>
<text x="1443.70" y="294.50" class="ti" font-family='"Liberation Serif", serif' font-size="20.3" text-anchor="middle">5</text>
<text transform="translate(1359.00,319.80) scale(1.25,1)" class="tb" font-family='"Liberation Serif", serif' font-style="italic" font-size="26" text-anchor="middle">m</text>
<text transform="translate(1238.90,227.30) rotate(-90) scale(1.07,1)" class="tb" font-family='"Liberation Serif", serif' font-style="italic" font-size="26">P</text>
<text transform="translate(1242.70,214.20) rotate(-90) scale(1.12,1)" font-family='"Liberation Serif", serif' font-style="italic" font-size="20">m</text>
</g>
</svg>
</body></html>
